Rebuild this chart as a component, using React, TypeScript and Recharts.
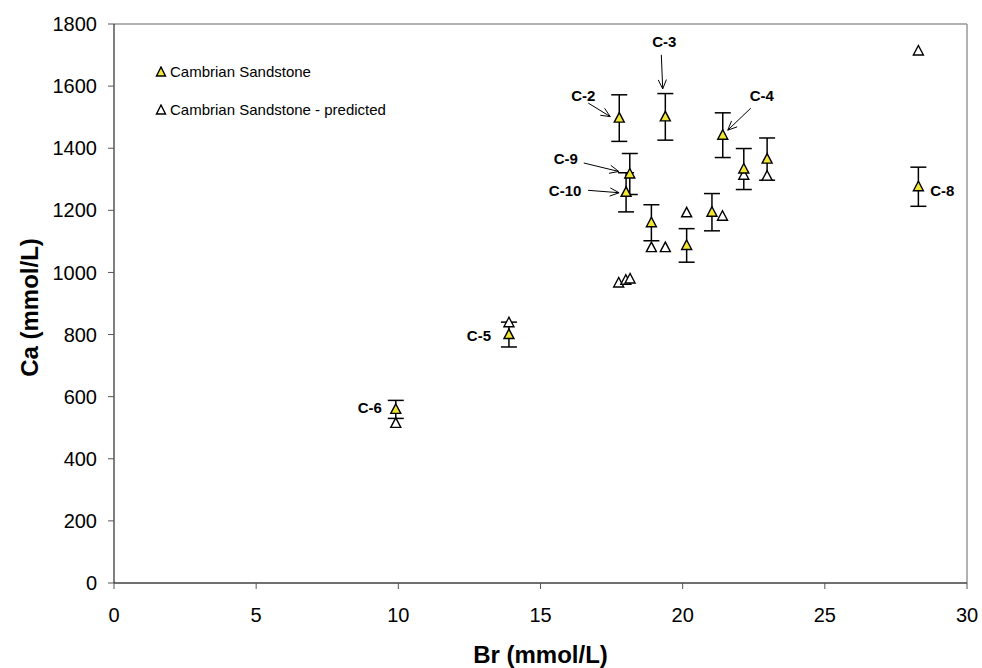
import {
  ErrorBar,
  Label,
  Legend,
  ReferenceLine,
  Scatter,
  ScatterChart,
  XAxis,
  YAxis,
} from "recharts"

// measured samples (Cambrian Sandstone)
const SAMPLE_NAMES = ["C-2", "C-3", "C-4", "C-9", "C-10", "", "", "", "", "", "C-8", "C-5", "C-6"]
const BR_MEASURED = [17.77, 19.39, 21.41, 18.14, 18.01, 18.9, 20.14, 21.03, 22.15, 22.97, 28.29, 13.89, 9.91]
const CA_MEASURED = [1497, 1501, 1442, 1317, 1258, 1160, 1087, 1194, 1333, 1365, 1276, 800, 559]
const CA_ERROR = [75, 75, 72, 66, 63, 58, 54, 60, 66, 68, 63, 40, 29]

// predicted
const BR_PREDICTED = [17.75, 18.0, 18.15, 18.9, 19.39, 20.14, 21.4, 22.15, 22.97, 13.89, 9.91, 28.29]
const CA_PREDICTED = [966, 975, 979, 1080, 1080, 1192, 1181, 1313, 1310, 838, 514, 1713]

const X_TICKS = [0, 5, 10, 15, 20, 25, 30]
const Y_TICKS = [0, 200, 400, 600, 800, 1000, 1200, 1400, 1600, 1800]

const FONT = "'Liberation Sans', Arial, sans-serif"
const YELLOW = "#f2e635"

// pixel offsets of callout text / arrows relative to the marker
const CALLOUTS: Record<string, { tx: number; ty: number; arrow?: [number, number, number, number] }> = {
  "C-2": { tx: -36, ty: -23, arrow: [-31, -15, -9, -1.5] },
  "C-3": { tx: -1, ty: -75, arrow: [-4, -62, -2.6, -28] },
  "C-4": { tx: 39, ty: -40, arrow: [28, -27, 5, -5] },
  "C-9": { tx: -64, ty: -15, arrow: [-46, -11, -11, -2.5] },
  "C-10": { tx: -61, ty: -2, arrow: [-38, -2, -7, 0.4] },
  "C-8": { tx: 24, ty: 4 },
  "C-5": { tx: -30, ty: 1 },
  "C-6": { tx: -26, ty: -2 },
}

const measured = BR_MEASURED.map((br, i) => ({
  br,
  ca: CA_MEASURED[i],
  err: CA_ERROR[i],
  name: SAMPLE_NAMES[i],
}))
const predicted = BR_PREDICTED.map((br, i) => ({ br, ca: CA_PREDICTED[i] }))
const labelled = measured.filter((d) => d.name)

function Triangle({ cx, cy, fill }: any) {
  if (cx == null || cy == null) return null
  return (
    <polygon
      points={`${cx},${cy - 5.5} ${cx - 5},${cy + 4} ${cx + 5},${cy + 4}`}
      fill={fill}
      stroke="#000"
      strokeWidth={1.4}
    />
  )
}

function Callout({ cx, cy, payload }: any) {
  const c = CALLOUTS[payload?.name]
  if (!c || cx == null) return null
  let arrow = null
  if (c.arrow) {
    const [x1, y1, x2, y2] = c.arrow.map((v, i) => v + (i % 2 ? cy : cx))
    const a = Math.atan2(y2 - y1, x2 - x1)
    const len = 10
    const s = 0.42
    arrow = (
      <g stroke="#000" strokeWidth={1} fill="none">
        <line x1={x1} y1={y1} x2={x2} y2={y2} />
        <polyline
          points={`${x2 - len * Math.cos(a - s)},${y2 - len * Math.sin(a - s)} ${x2},${y2} ${
            x2 - len * Math.cos(a + s)
          },${y2 - len * Math.sin(a + s)}`}
        />
      </g>
    )
  }
  return (
    <g>
      <text
        x={cx + c.tx}
        y={cy + c.ty}
        textAnchor="middle"
        dominantBaseline="central"
        fontFamily={FONT}
        fontWeight="bold"
        fontSize={15}
        fill="#000"
      >
        {payload.name}
      </text>
      {arrow}
    </g>
  )
}

function LegendBox() {
  const items = [
    { label: "Cambrian Sandstone", fill: YELLOW },
    { label: "Cambrian Sandstone - predicted", fill: "#fff" },
  ]
  return (
    <div style={{ fontFamily: FONT, fontSize: 15, color: "#000" }}>
      {items.map((it) => (
        <div key={it.label} style={{ display: "flex", alignItems: "center", height: 21, marginBottom: 17 }}>
          <svg width={12} height={12} style={{ marginRight: 3 }}>
            <polygon points="6,1 1.5,10 10.5,10" fill={it.fill} stroke="#000" strokeWidth={1.4} />
          </svg>
          <span style={{ whiteSpace: "nowrap" }}>{it.label}</span>
        </div>
      ))}
    </div>
  )
}

export default function App() {
  const tick = { fill: "#000", fontSize: 20, fontFamily: FONT }
  return (
    <div style={{ position: "absolute", left: 0, top: 0, width: 982, height: 668, background: "#fff" }}>
      <ScatterChart width={982} height={668} margin={{ top: 24, right: 15, left: 0, bottom: 0 }}>
        <XAxis
          type="number"
          dataKey="br"
          domain={[0, 30]}
          ticks={X_TICKS}
          height={85}
          tickSize={6}
          tickMargin={19}
          tick={tick}
          axisLine={{ stroke: "#404040", strokeWidth: 1.5 }}
          tickLine={{ stroke: "#555" }}
        >
          <Label
            content={({ viewBox }: any) => (
              <text
                x={viewBox.x + viewBox.width / 2}
                y={viewBox.y + 71}
                textAnchor="middle"
                dominantBaseline="central"
                fontFamily={FONT}
                fontWeight="bold"
                fontSize={24}
                fill="#000"
              >
                Br (mmol/L)
              </text>
            )}
          />
        </XAxis>
        <YAxis
          type="number"
          dataKey="ca"
          domain={[0, 1800]}
          ticks={Y_TICKS}
          width={114}
          tickSize={6}
          tickMargin={11}
          tick={tick}
          axisLine={{ stroke: "#000" }}
          tickLine={{ stroke: "#555" }}
        >
          <Label
            content={({ viewBox }: any) => {
              const x = viewBox.x + 29
              const y = viewBox.y + viewBox.height / 2 + 4
              return (
                <text
                  x={x}
                  y={y}
                  transform={`rotate(-90, ${x}, ${y})`}
                  textAnchor="middle"
                  dominantBaseline="central"
                  fontFamily={FONT}
                  fontWeight="bold"
                  fontSize={24}
                  fill="#000"
                >
                  Ca (mmol/L)
                </text>
              )
            }}
          />
        </YAxis>
        <ReferenceLine y={1800} stroke="#999" strokeWidth={1.5} />
        <ReferenceLine x={30} stroke="#999" strokeWidth={1.5} />
        <Legend
          layout="vertical"
          align="center"
          verticalAlign="middle"
          content={() => <LegendBox />}
          wrapperStyle={{ left: 155, top: 61, width: 320, height: 80 }}
        />
        <Scatter
          name="Cambrian Sandstone - predicted"
          data={predicted}
          fill="#fff"
          shape={(p: any) => <Triangle {...p} fill="#fff" />}
          isAnimationActive={false}
        />
        <Scatter
          name="Cambrian Sandstone"
          data={measured}
          fill={YELLOW}
          shape={(p: any) => <Triangle {...p} fill={YELLOW} />}
          isAnimationActive={false}
        >
          <ErrorBar dataKey="err" direction="y" width={8} stroke="#000" strokeWidth={1.5} />
        </Scatter>
        <Scatter
          name="callouts"
          data={labelled}
          legendType="none"
          shape={(p: any) => <Callout {...p} />}
          isAnimationActive={false}
        />
      </ScatterChart>
    </div>
  )
}
